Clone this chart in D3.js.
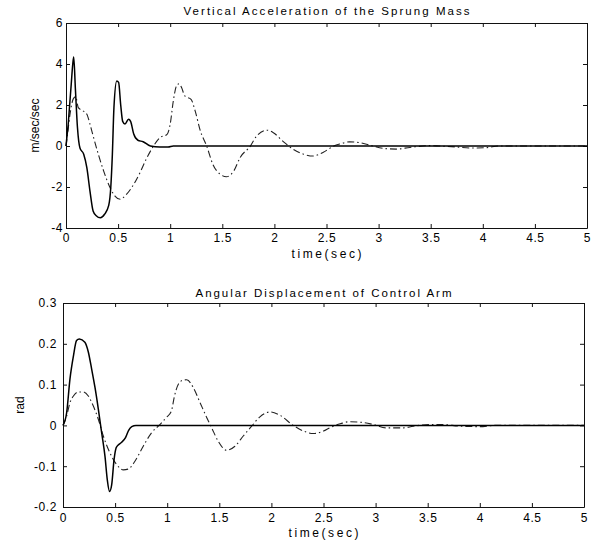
<!DOCTYPE html>
<html>
<head>
<meta charset="utf-8">
<script src="https://cdn.jsdelivr.net/npm/d3@7.8.5/dist/d3.min.js"></script>
<style>
  body { margin: 0; background: #fff; }
  svg text { font-family: "Liberation Sans", Arial, Helvetica, sans-serif; fill: #000; }
</style>
</head>
<body>
<script>
// ---- data ----
const timeTicks = [0, 0.5, 1, 1.5, 2, 2.5, 3, 3.5, 4, 4.5, 5];
const accelTicks = [-4, -2, 0, 2, 4, 6];
const angleTicks = [-0.2, -0.1, 0, 0.1, 0.2, 0.3];

// vertical acceleration, solid curve
const accelSolidT = [0, 0.01, 0.02, 0.035, 0.05, 0.065, 0.074, 0.09, 0.11, 0.134, 0.17, 0.2, 0.23, 0.26, 0.29, 0.33, 0.37, 0.41, 0.43, 0.445, 0.46, 0.487, 0.505, 0.525, 0.544, 0.566, 0.6, 0.62, 0.65, 0.69, 0.74, 0.81, 0.9, 0.98, 1.03, 5];
const accelSolidV = [0, 0.5, 1.0, 2.0, 3.0, 4.0, 4.34, 2.8, 0.9, -0.1, -0.4, -1.06, -2.2, -3.17, -3.4, -3.5, -3.33, -2.9, -2.0, -0.4, 1.87, 3.17, 3.1, 2.0, 1.2, 1.07, 1.3, 1.2, 0.58, 0.28, 0.21, 0, -0.05, -0.05, 0, 0];

// vertical acceleration, dash-dot curve
const accelDashT = [0, 0.02, 0.04, 0.07, 0.093, 0.118, 0.15, 0.2, 0.23, 0.26, 0.31, 0.36, 0.42, 0.47, 0.52, 0.58, 0.65, 0.71, 0.77, 0.84, 0.9, 0.97, 1.0, 1.03, 1.06, 1.085, 1.11, 1.14, 1.2, 1.24, 1.29, 1.35, 1.41, 1.48, 1.54, 1.61, 1.67, 1.77, 1.83, 1.93, 1.99, 2.08, 2.18, 2.28, 2.37, 2.47, 2.57, 2.63, 2.72, 2.82, 2.92, 3.05, 3.17, 3.3, 3.49, 3.58, 3.75, 3.88, 4.04, 4.15, 5];
const accelDashV = [0, 0.8, 1.6, 2.3, 2.4, 1.87, 1.75, 1.55, 1.07, 0.5, -0.4, -1.2, -2.0, -2.44, -2.6, -2.36, -1.87, -1.3, -0.64, 0, 0.4, 0.57, 1.07, 2.2, 2.93, 3.04, 2.84, 2.44, 2.28, 1.7, 0.73, 0, -0.9, -1.38, -1.5, -1.22, -0.57, 0, 0.49, 0.77, 0.65, 0.24, -0.16, -0.4, -0.49, -0.3, 0, 0.1, 0.2, 0.16, 0.03, -0.12, -0.15, -0.07, 0.02, 0, -0.05, -0.1, -0.08, 0, 0];

// angular displacement, solid curve
const angleSolidT = [0, 0.035, 0.067, 0.1, 0.13, 0.157, 0.21, 0.243, 0.275, 0.307, 0.339, 0.371, 0.403, 0.425, 0.447, 0.467, 0.49, 0.51, 0.53, 0.56, 0.6, 0.63, 0.66, 0.7, 5];
const angleSolidV = [0, 0.031, 0.114, 0.17, 0.208, 0.212, 0.204, 0.18, 0.138, 0.093, 0.04, -0.018, -0.076, -0.133, -0.162, -0.146, -0.084, -0.055, -0.048, -0.042, -0.03, -0.012, -0.003, 0, 0];

// angular displacement, dash-dot curve
const angleDashT = [0, 0.035, 0.067, 0.1, 0.147, 0.195, 0.243, 0.29, 0.339, 0.387, 0.45, 0.515, 0.579, 0.627, 0.69, 0.77, 0.85, 0.93, 0.99, 1.04, 1.07, 1.107, 1.155, 1.187, 1.25, 1.315, 1.38, 1.427, 1.49, 1.57, 1.65, 1.73, 1.81, 1.89, 1.99, 2.08, 2.21, 2.31, 2.4, 2.5, 2.56, 2.66, 2.75, 2.88, 2.98, 3.1, 3.27, 3.36, 3.52, 3.65, 3.81, 4.0, 4.15, 5];
const angleDashV = [0, 0.023, 0.056, 0.072, 0.082, 0.082, 0.072, 0.048, 0.015, -0.026, -0.067, -0.096, -0.109, -0.107, -0.088, -0.051, -0.018, 0.002, 0.019, 0.035, 0.072, 0.101, 0.111, 0.112, 0.093, 0.056, 0.019, -0.006, -0.039, -0.061, -0.051, -0.026, -0.002, 0.021, 0.033, 0.025, 0, -0.014, -0.02, -0.014, -0.006, 0.004, 0.009, 0.007, 0.002, -0.006, -0.006, -0.002, 0.002, 0.002, -0.002, -0.003, 0, 0];

const zip = (ts, vs) => ts.map((t, i) => ({ t, v: vs[i] }));

const svg = d3.select("body").append("svg")
  .attr("width", 605)
  .attr("height", 546);

const panels = [
  {
    box: { left: 66, right: 587, top: 23, bottom: 228 },
    yDomain: [-4, 6], yTicks: accelTicks,
    title: "Vertical Acceleration of the Sprung Mass", titleY: 15, titleLen: 286,
    yLabel: "m/sec/sec", yLabelX: 35,
    xLabelY: 258, xPad: 5, yPad: 3,
    solid: zip(accelSolidT, accelSolidV),
    dash: zip(accelDashT, accelDashV),
  },
  {
    box: { left: 63, right: 584, top: 303, bottom: 507 },
    yDomain: [-0.2, 0.3], yTicks: angleTicks,
    title: "Angular Displacement of Control Arm", titleY: 297, titleLen: 256,
    yLabel: "rad", yLabelX: 20,
    xLabelY: 537, xPad: 6, yPad: 6,
    solid: zip(angleSolidT, angleSolidV),
    dash: zip(angleDashT, angleDashV),
  },
];

panels.forEach((p) => {
  const b = p.box;
  const x = d3.scaleLinear().domain([0, 5]).range([b.left, b.right]);
  const y = d3.scaleLinear().domain(p.yDomain).range([b.bottom, b.top]);
  const g = svg.append("g");

  // MATLAB style box: inward ticks on all four sides
  g.append("g")
    .attr("transform", `translate(0,${b.bottom})`)
    .call(d3.axisBottom(x).tickValues(timeTicks).tickFormat((d) => String(d))
      .tickSizeInner(-4).tickSizeOuter(0).tickPadding(p.xPad));
  g.append("g")
    .attr("transform", `translate(0,${b.top})`)
    .call(d3.axisTop(x).tickValues(timeTicks).tickFormat("")
      .tickSizeInner(-4).tickSizeOuter(0));
  g.append("g")
    .attr("transform", `translate(${b.left},0)`)
    .call(d3.axisLeft(y).tickValues(p.yTicks).tickFormat((d) => String(d))
      .tickSizeInner(-4).tickSizeOuter(0).tickPadding(p.yPad));
  g.append("g")
    .attr("transform", `translate(${b.right},0)`)
    .call(d3.axisRight(y).tickValues(p.yTicks).tickFormat("")
      .tickSizeInner(-4).tickSizeOuter(0));

  g.selectAll(".domain").attr("stroke", "#111").attr("stroke-width", 1);
  g.selectAll(".tick line").attr("stroke", "#111");
  g.selectAll(".tick text")
    .style("font-size", "12px")
    .style("letter-spacing", "0.6px")
    .attr("fill", "#000");

  const line = d3.line()
    .x((d) => x(d.t))
    .y((d) => y(d.v))
    .curve(d3.curveMonotoneX);

  g.append("path")
    .datum(p.dash)
    .attr("d", line)
    .attr("fill", "none")
    .attr("stroke", "#222")
    .attr("stroke-width", 1.1)
    .attr("stroke-dasharray", "7,3,1.5,3");

  g.append("path")
    .datum(p.solid)
    .attr("d", line)
    .attr("fill", "none")
    .attr("stroke", "#000")
    .attr("stroke-width", 1.5)
    .attr("stroke-linejoin", "round");

  // titles and labels
  const mid = (b.left + b.right) / 2;
  g.append("text")
    .attr("x", mid)
    .attr("y", p.titleY)
    .attr("text-anchor", "middle")
    .attr("textLength", p.titleLen)
    .attr("lengthAdjust", "spacing")
    .style("font-size", "11.5px")
    .text(p.title);

  g.append("text")
    .attr("x", mid)
    .attr("y", p.xLabelY)
    .attr("text-anchor", "middle")
    .attr("textLength", 70)
    .attr("lengthAdjust", "spacing")
    .style("font-size", "12px")
    .text("time(sec)");

  g.append("text")
    .attr("transform", `translate(${p.yLabelX},${(b.top + b.bottom) / 2}) rotate(-90)`)
    .attr("text-anchor", "middle")
    .attr("dy", "0.35em")
    .style("font-size", "12px")
    .text(p.yLabel);
});
</script>
</body>
</html>
